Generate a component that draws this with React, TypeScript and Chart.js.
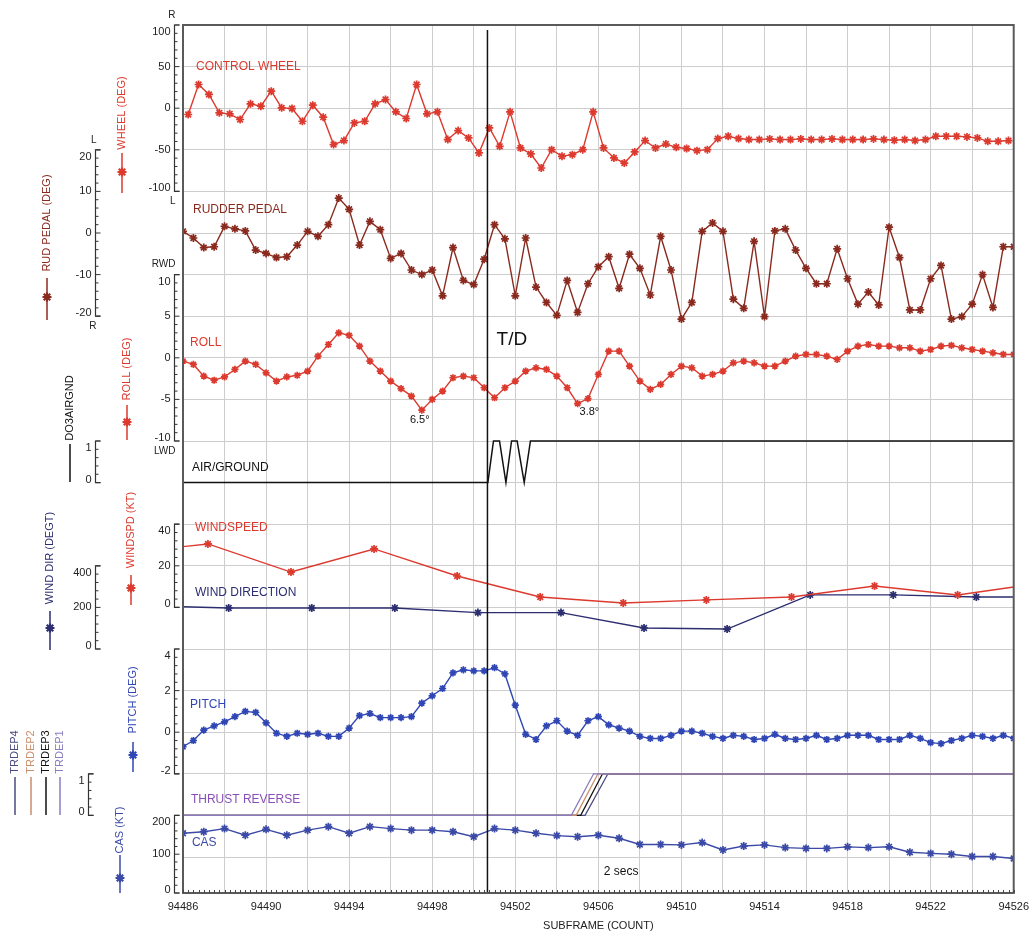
import React, { useEffect, useRef } from 'react';
import { Chart, registerables } from 'chart.js';

Chart.register(...registerables);

// ---------------- data ----------------
const X_MIN = 94486;
const X_MAX = 94526;
const X_TICK_STEP = 2;
const X_LABEL_STEP = 4;
const TOUCHDOWN = 94500.66;

const WHEEL_START = 94486.25;
const WHEEL_STEP = 0.5;
const WHEEL_DEG = [
  -7.6, 28.5, 16.5, -5.6, -6.8, -13.6, 5.2, 2.4, 20.5, 0.4,
  -0.4, -15.7, 3.6, -10.8, -43.7, -38.9, -17.7, -15.7, 5.2, 10.4,
  -4.4, -12.4, 28.5, -6.8, -4.4, -37.7, -26.9, -35.7, -53.8, -23.7,
  -45.8, -4.4, -47.8, -55, -71.9, -49.8, -57.8, -55.8, -49.8, -4.4,
  -47.8, -59.8, -65.9, -52.6, -38.9, -47.8, -43, -47, -48.5, -51,
  -49.8, -36.5, -33.7, -36.5, -37.7, -37.7, -36.9, -37.7, -37.7, -36.9,
  -37.7, -37.7, -36.9, -37.7, -37.7, -37.7, -36.9, -37.7, -38.5, -37.7,
  -38.9, -37.7, -33.7, -33.7, -33.7, -34.5, -35.7, -39.8, -39.8, -38.9,
];

const RUDDER_START = 94486;
const RUDDER_STEP = 0.5;
const RUDDER_DEG = [
  0.4, -1.2, -3.5, -3.3, 1.6, 1.0, 0.5, -4.1, -4.9, -5.9,
  -5.7, -2.9, 0.4, -0.8, 2.0, 8.4, 5.7, -2.9, 2.8, 0.8,
  -6.1, -4.9, -8.9, -10.0, -8.9, -15.1, -3.5, -11.4, -12.4, -6.3,
  2.0, -1.4, -15.1, -1.2, -13.0, -16.7, -19.8, -11.4, -19.1, -12.2,
  -8.1, -5.7, -13.3, -5.1, -8.5, -14.9, -0.8, -8.9, -20.7, -16.7,
  0.4, 2.4, 0.4, -15.9, -18.1, -2.0, -20.1, 0.5, 1.0, -4.1,
  -8.5, -12.2, -12.2, -3.8, -11.0, -17.1, -14.2, -17.3, 1.4, -5.9,
  -18.5, -18.5, -11.0, -7.8, -20.7, -20.1, -17.1, -10.0, -17.9, -3.3,
  -3.3,
];

const ROLL_START = 94486;
const ROLL_STEP = 0.5;
const ROLL_DEG = [
  -0.4, -0.8, -2.2, -2.7, -2.3, -1.4, -0.4, -0.8, -1.8, -2.8,
  -2.3, -2.1, -1.6, 0.2, 1.6, 3.0, 2.7, 1.4, -0.4, -1.6,
  -2.8, -3.7, -4.6, -6.3, -5.0, -4.0, -2.4, -2.2, -2.4, -3.6,
  -4.8, -3.6, -2.8, -1.6, -1.2, -1.4, -2.2, -3.6, -5.5, -4.9,
  -2.0, 0.8, 0.8, -1.0, -2.8, -3.8, -3.2, -2.0, -1.0, -1.2,
  -2.2, -2.0, -1.6, -0.6, -0.4, -0.6, -1.0, -1.0, -0.4, 0.2,
  0.4, 0.4, 0.2, -0.2, 0.8, 1.4, 1.6, 1.4, 1.4, 1.2,
  1.2, 0.8, 1.0, 1.4, 1.5, 1.2, 1.0, 0.8, 0.6, 0.4,
  0.4,
];

const AIRGND_COUNT = [94486, 94500.68, 94500.95, 94501.24, 94501.55, 94501.82, 94502.09, 94502.43, 94502.73, 94526];
const AIRGND_STATE = [0, 0, 1, 1, 0, 1, 1, 0, 1, 1];

const WINDSPD_COUNT = [94486, 94487.2, 94491.2, 94495.2, 94499.2, 94503.2, 94507.2, 94511.2, 94515.3, 94519.3, 94523.3, 94526];
const WINDSPD_KT = [29.2, 30.5, 17.0, 28.1, 15.1, 5.0, 2.1, 3.6, 5.0, 10.3, 6.0, 9.8];

const WINDDIR_COUNT = [94486, 94488.2, 94492.2, 94496.2, 94500.2, 94504.2, 94508.2, 94512.2, 94516.2, 94520.2, 94524.2, 94526];
const WINDDIR_DEG = [203, 197, 197, 197, 175, 175, 101, 96, 260, 260, 250, 250];

const PITCH_START = 94486;
const PITCH_STEP = 0.5;
const PITCH_DEG = [
  -0.7, -0.4, 0.1, 0.3, 0.5, 0.75, 1.0, 0.95, 0.45, -0.05,
  -0.2, -0.05, -0.1, -0.05, -0.2, -0.2, 0.2, 0.8, 0.9, 0.7,
  0.7, 0.7, 0.75, 1.4, 1.75, 2.1, 2.85, 3.0, 2.95, 2.95,
  3.1, 2.8, 1.3, -0.1, -0.35, 0.3, 0.55, 0.05, -0.15, 0.55,
  0.75, 0.35, 0.2, 0.05, -0.2, -0.3, -0.3, -0.15, 0.05, 0.05,
  -0.05, -0.2, -0.3, -0.15, -0.2, -0.35, -0.3, -0.1, -0.3, -0.35,
  -0.3, -0.15, -0.35, -0.3, -0.15, -0.15, -0.15, -0.35, -0.35, -0.35,
  -0.15, -0.3, -0.5, -0.55, -0.4, -0.3, -0.15, -0.2, -0.3, -0.15,
  -0.3,
];

const TRDEP_STATE = [0, 0, 1, 1];
const TRDEP1_COUNT = [94486, 94504.70, 94505.77, 94526];
const TRDEP2_COUNT = [94486, 94504.93, 94505.98, 94526];
const TRDEP3_COUNT = [94486, 94505.15, 94506.20, 94526];
const TRDEP4_COUNT = [94486, 94505.36, 94506.46, 94526];

const CAS_START = 94486;
const CAS_STEP = 1;
const CAS_KT = [
  154, 158, 166, 149, 164, 149, 162, 171, 154, 171,
  166, 162, 162, 158, 145, 166, 162, 154, 148, 145,
  149, 141, 125, 125, 124, 130, 111, 121, 124, 117,
  115, 115, 119, 117, 119, 105, 102, 100, 94, 94,
  89,
];

// ---------------- layout / style ----------------
const W = 1036;
const H = 939;
const PLOT = { left: 183, right: 1015, top: 25, bottom: 893 };
const ROW_PX = 41.6;
const ROWS = (PLOT.bottom - PLOT.top) / ROW_PX;
const FONT = "'Liberation Sans', Arial, sans-serif";

const RED = '#dc3a2e';
const DARK_RED = '#8a2a1f';
const NAVY = '#2c2e70';
const BLUE = '#2f46b4';
const CAS_BLUE = '#3b4aa6';
const PURPLE = '#8a4fb5';
const TR1 = '#8a7cc0';
const TR2 = '#c98e6c';
const TR3 = '#111111';
const TR4 = '#4a4a82';
const GRID = '#cdcdcd';

type Panel = {
  id: string; vTop: number; vBot: number; rTop: number; rBot: number;
  axisX: number; major: number[]; minor: number; above?: string; below?: string;
};

const PANELS: Panel[] = [
  { id: 'yWheel', vTop: 100, vBot: -100, rTop: 0, rBot: 4, axisX: 174, major: [100, 50, 0, -50, -100], minor: 10, above: 'R', below: 'L' },
  { id: 'yRudder', vTop: 20, vBot: -20, rTop: 3, rBot: 7, axisX: 95, major: [20, 10, 0, -10, -20], minor: 2, above: 'L', below: 'R' },
  { id: 'yRoll', vTop: 10, vBot: -10, rTop: 6, rBot: 10, axisX: 174, major: [10, 5, 0, -5, -10], minor: 1, above: 'RWD', below: 'LWD' },
  { id: 'yAir', vTop: 1, vBot: 0, rTop: 10, rBot: 11, axisX: 95, major: [1, 0], minor: 0.2 },
  { id: 'ySpeed', vTop: 40, vBot: 0, rTop: 12, rBot: 14, axisX: 174, major: [40, 20, 0], minor: 4 },
  { id: 'yDir', vTop: 400, vBot: 0, rTop: 13, rBot: 15, axisX: 95, major: [400, 200, 0], minor: 40 },
  { id: 'yPitch', vTop: 4, vBot: -2, rTop: 15, rBot: 18, axisX: 174, major: [4, 2, 0, -2], minor: 0.4 },
  { id: 'yThrust', vTop: 1, vBot: 0, rTop: 18, rBot: 19, axisX: 88, major: [1, 0], minor: 0.2 },
  { id: 'yCas', vTop: 200, vBot: 0, rTop: 19, rBot: ROWS, axisX: 174, major: [200, 100, 0], minor: 20 },
];

const SIDE_TITLES = [
  { text: 'WHEEL (DEG)', color: RED, x: 122, textY: 113, line: [153, 193], marker: 172 },
  { text: 'RUD PEDAL (DEG)', color: DARK_RED, x: 47, textY: 223, line: [278, 320], marker: 297 },
  { text: 'ROLL (DEG)', color: RED, x: 127, textY: 369, line: [405, 440], marker: 422 },
  { text: 'DO3AIRGND', color: '#111', x: 70, textY: 408, line: [444, 482], marker: 0 },
  { text: 'WINDSPD (KT)', color: RED, x: 131, textY: 530, line: [575, 605], marker: 588 },
  { text: 'WIND DIR (DEGT)', color: NAVY, x: 50, textY: 558, line: [611, 650], marker: 628 },
  { text: 'PITCH (DEG)', color: BLUE, x: 133, textY: 700, line: [742, 772], marker: 755 },
  { text: 'CAS (KT)', color: CAS_BLUE, x: 120, textY: 830, line: [855, 893], marker: 878 },
  { text: 'TRDEP4', color: TR4, x: 15, textY: 752, line: [777, 815], marker: 0 },
  { text: 'TRDEP2', color: TR2, x: 31, textY: 752, line: [777, 815], marker: 0 },
  { text: 'TRDEP3', color: TR3, x: 46, textY: 752, line: [777, 815], marker: 0 },
  { text: 'TRDEP1', color: TR1, x: 60, textY: 752, line: [777, 815], marker: 0 },
];

// in-plot labels positioned in (count, row) coordinates
const PLOT_LABELS = [
  { text: 'CONTROL WHEEL', color: RED, x: 94486.63, row: 1.01, size: 12, align: 'left' },
  { text: 'RUDDER PEDAL', color: DARK_RED, x: 94486.48, row: 4.45, size: 12, align: 'left' },
  { text: 'ROLL', color: RED, x: 94486.34, row: 7.64, size: 12, align: 'left' },
  { text: 'AIR/GROUND', color: '#111', x: 94486.43, row: 10.63, size: 12, align: 'left' },
  { text: 'WINDSPEED', color: RED, x: 94486.58, row: 12.09, size: 12, align: 'left' },
  { text: 'WIND DIRECTION', color: NAVY, x: 94486.58, row: 13.65, size: 12, align: 'left' },
  { text: 'PITCH', color: BLUE, x: 94486.34, row: 16.35, size: 12, align: 'left' },
  { text: 'THRUST REVERSE', color: PURPLE, x: 94486.38, row: 18.63, size: 12, align: 'left' },
  { text: 'CAS', color: CAS_BLUE, x: 94486.43, row: 19.66, size: 12, align: 'left' },
  { text: '2 secs', color: '#111', x: 94507.1, row: 20.36, size: 12, align: 'center' },
  { text: 'T/D', color: '#111', x: 94501.1, row: 7.57, size: 19, align: 'left' },
  { text: '6.5°', color: '#111', x: 94497.4, row: 9.5, size: 11, align: 'center' },
  { text: '3.8°', color: '#111', x: 94505.57, row: 9.3, size: 11, align: 'center' },
];

function axisRange(p: Panel) {
  const k = (p.vTop - p.vBot) / (p.rBot - p.rTop);
  return { max: p.vTop + p.rTop * k, min: p.vBot - (ROWS - p.rBot) * k };
}

const series = (start: number, step: number, vals: number[]) =>
  vals.map((y, i) => ({ x: start + i * step, y }));
const pairs = (xs: number[], ys: number[]) => xs.map((x, i) => ({ x, y: ys[i] }));

function markerLine(label: string, axis: string, data: any[], color: string, radius: number, edgeless = false) {
  const n = data.length;
  return {
    label, yAxisID: axis, data,
    borderColor: color, backgroundColor: color,
    pointBorderColor: color, pointBackgroundColor: color,
    borderWidth: 1.4, pointStyle: 'star', pointBorderWidth: 1.7,
    pointRadius: edgeless ? (c: any) => (c.dataIndex === 0 || c.dataIndex === n - 1 ? 0 : radius) : radius,
    tension: 0,
  };
}

function plainLine(label: string, axis: string, data: any[], color: string, width: number) {
  return { label, yAxisID: axis, data, borderColor: color, borderWidth: width, pointRadius: 0, tension: 0 };
}

function drawStar(ctx: CanvasRenderingContext2D, x: number, y: number, r: number) {
  const d = r * 0.72;
  ctx.beginPath();
  ctx.moveTo(x - r, y); ctx.lineTo(x + r, y);
  ctx.moveTo(x, y - r); ctx.lineTo(x, y + r);
  ctx.moveTo(x - d, y - d); ctx.lineTo(x + d, y + d);
  ctx.moveTo(x - d, y + d); ctx.lineTo(x + d, y - d);
  ctx.stroke();
}

const overlay = {
  id: 'fdrOverlay',
  afterDraw(chart: any) {
    const { ctx, chartArea: a, scales } = chart;
    ctx.save();

    // plot frame
    ctx.strokeStyle = '#5a5a5a';
    ctx.lineWidth = 2;
    ctx.strokeRect(a.left, a.top, a.right - a.left, a.bottom - a.top);

    // minor ticks along the bottom
    const xs = scales.x;
    ctx.strokeStyle = '#444';
    ctx.lineWidth = 1;
    ctx.beginPath();
    for (let c = X_MIN; c <= X_MAX; c += 0.25) {
      const px = Math.round(xs.getPixelForValue(c)) + 0.5;
      ctx.moveTo(px, a.bottom);
      ctx.lineTo(px, a.bottom - 3);
    }
    ctx.stroke();

    // left axes
    for (const p of PANELS) {
      const s = scales[p.id];
      const pTop = s.getPixelForValue(p.vTop);
      const pBot = Math.min(s.getPixelForValue(p.vBot), a.bottom);
      const x = p.axisX + 0.5;
      ctx.strokeStyle = '#333';
      ctx.lineWidth = 1.2;
      ctx.beginPath();
      ctx.moveTo(x + 5, pTop); ctx.lineTo(x, pTop); ctx.lineTo(x, pBot); ctx.lineTo(x + 5, pBot);
      ctx.stroke();
      ctx.lineWidth = 1;
      ctx.beginPath();
      const lo = Math.min(p.vTop, p.vBot);
      const hi = Math.max(p.vTop, p.vBot);
      for (let v = lo; v <= hi + 1e-9; v += p.minor) {
        const py = s.getPixelForValue(v);
        if (py > a.bottom) continue;
        const isMajor = p.major.some((m) => Math.abs(m - v) < 1e-6);
        ctx.moveTo(x, py);
        ctx.lineTo(x + (isMajor ? 5 : 3), py);
      }
      ctx.stroke();
      ctx.fillStyle = '#222';
      ctx.font = `11px ${FONT}`;
      ctx.textAlign = 'right';
      ctx.textBaseline = 'middle';
      for (const m of p.major) {
        let py = s.getPixelForValue(m);
        py = Math.min(Math.max(py, pTop + 7), pBot - 3);
        ctx.fillText(String(m), x - 4, py);
      }
      ctx.font = `10px ${FONT}`;
      if (p.above) ctx.fillText(p.above, x + 1, pTop - 10);
      if (p.below) ctx.fillText(p.below, x + 1, pBot + 10);
    }

    // rotated side titles with legend symbol
    for (const t of SIDE_TITLES) {
      ctx.strokeStyle = t.color;
      ctx.fillStyle = t.color;
      ctx.lineWidth = 1.5;
      ctx.beginPath();
      ctx.moveTo(t.x, t.line[0]);
      ctx.lineTo(t.x, t.line[1]);
      ctx.stroke();
      if (t.marker) {
        ctx.lineWidth = 2.2;
        drawStar(ctx, t.x, t.marker, 4.5);
      }
      ctx.save();
      ctx.translate(t.x, t.textY);
      ctx.rotate(-Math.PI / 2);
      ctx.font = `11px ${FONT}`;
      ctx.textAlign = 'center';
      ctx.textBaseline = 'middle';
      ctx.fillText(t.text, 0, 0);
      ctx.restore();
    }

    // in-plot labels
    const gs = scales.grid;
    for (const l of PLOT_LABELS) {
      ctx.fillStyle = l.color;
      ctx.font = `${l.size}px ${FONT}`;
      ctx.textAlign = l.align as CanvasTextAlign;
      ctx.textBaseline = 'middle';
      ctx.fillText(l.text, xs.getPixelForValue(l.x), gs.getPixelForValue(l.row));
    }

    ctx.restore();
  },
};

export default function App() {
  const ref = useRef<HTMLCanvasElement>(null);

  useEffect(() => {
    const yScales: any = {};
    for (const p of PANELS) {
      const r = axisRange(p);
      yScales[p.id] = { type: 'linear', display: false, min: r.min, max: r.max, position: 'left' };
    }

    const datasets: any[] = [
      plainLine('T/D', 'grid', [{ x: TOUCHDOWN, y: 0.12 }, { x: TOUCHDOWN, y: ROWS }], '#111', 1.5),
      markerLine('Control wheel', 'yWheel', series(WHEEL_START, WHEEL_STEP, WHEEL_DEG), RED, 4),
      markerLine('Rudder pedal', 'yRudder', series(RUDDER_START, RUDDER_STEP, RUDDER_DEG), DARK_RED, 4),
      markerLine('Roll', 'yRoll', series(ROLL_START, ROLL_STEP, ROLL_DEG), RED, 3.6),
      plainLine('Air/ground', 'yAir', pairs(AIRGND_COUNT, AIRGND_STATE), '#111', 1.5),
      markerLine('Windspeed', 'ySpeed', pairs(WINDSPD_COUNT, WINDSPD_KT), RED, 4, true),
      markerLine('Wind direction', 'yDir', pairs(WINDDIR_COUNT, WINDDIR_DEG), NAVY, 4, true),
      markerLine('Pitch', 'yPitch', series(PITCH_START, PITCH_STEP, PITCH_DEG), BLUE, 3.6),
      plainLine('TRDEP1', 'yThrust', pairs(TRDEP1_COUNT, TRDEP_STATE), TR1, 1.3),
      plainLine('TRDEP2', 'yThrust', pairs(TRDEP2_COUNT, TRDEP_STATE), TR2, 1.3),
      plainLine('TRDEP3', 'yThrust', pairs(TRDEP3_COUNT, TRDEP_STATE), TR3, 1.3),
      plainLine('TRDEP4', 'yThrust', pairs(TRDEP4_COUNT, TRDEP_STATE), TR4, 1.3),
      markerLine('CAS', 'yCas', series(CAS_START, CAS_STEP, CAS_KT), CAS_BLUE, 4),
    ];

    const chart = new Chart(ref.current as HTMLCanvasElement, {
      type: 'line',
      data: { datasets },
      options: {
        responsive: false,
        maintainAspectRatio: false,
        animation: false,
        events: [],
        layout: { padding: { left: PLOT.left, right: W - PLOT.right, top: PLOT.top, bottom: 0 } },
        plugins: { legend: { display: false }, tooltip: { enabled: false }, title: { display: false } },
        scales: {
          x: {
            type: 'linear',
            min: X_MIN,
            max: X_MAX,
            afterFit: (s: any) => { s.height = H - PLOT.bottom; },
            grid: { color: GRID, lineWidth: 1, drawTicks: false },
            border: { display: false },
            ticks: {
              stepSize: X_TICK_STEP,
              autoSkip: false,
              maxRotation: 0,
              padding: 7,
              color: '#222',
              font: { family: FONT, size: 11 },
              callback: (v: any) => ((Number(v) - X_MIN) % X_LABEL_STEP === 0 ? String(v) : ''),
            },
            title: {
              display: true,
              text: 'SUBFRAME (COUNT)',
              color: '#222',
              font: { family: FONT, size: 11 },
              padding: { top: 0, bottom: 6 },
            },
          },
          grid: {
            type: 'linear',
            position: 'left',
            reverse: true,
            min: 0,
            max: ROWS,
            afterFit: (s: any) => { s.width = 0; },
            ticks: { display: false, stepSize: 1 },
            grid: { color: GRID, lineWidth: 1, drawTicks: false },
            border: { display: false },
          },
          ...yScales,
        },
      } as any,
      plugins: [overlay],
    });
    return () => chart.destroy();
  }, []);

  return (
    <div style={{ position: 'fixed', left: 0, top: 0, width: W, height: H, background: '#fff' }}>
      <canvas ref={ref} width={W} height={H} style={{ width: W, height: H, display: 'block' }} />
    </div>
  );
}
